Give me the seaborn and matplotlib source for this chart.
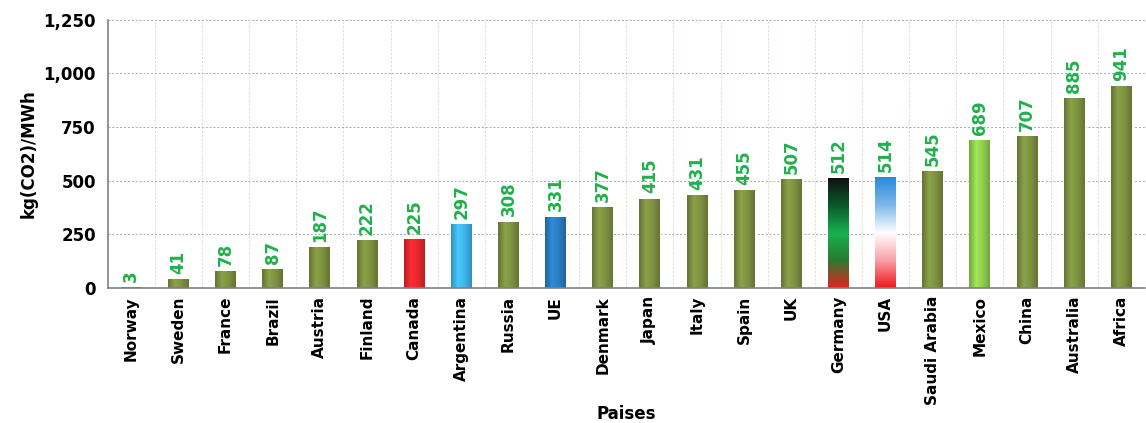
import matplotlib
matplotlib.use("Agg")
import matplotlib.pyplot as plt
import numpy as np
import pandas as pd
import seaborn as sns
from matplotlib.colors import LinearSegmentedColormap
from matplotlib.ticker import FuncFormatter, MultipleLocator

countries = ["Norway", "Sweden", "France", "Brazil", "Austria", "Finland", "Canada",
             "Argentina", "Russia", "UE", "Denmark", "Japan", "Italy", "Spain", "UK",
             "Germany", "USA", "Saudi Arabia", "Mexico", "China", "Australia", "Africa"]
emissions = [3, 41, 78, 87, 187, 222, 225, 297, 308, 331, 377, 415, 431, 455, 507,
             512, 514, 545, 689, 707, 885, 941]

OLIVE = "#7d9140"
special = {"Canada": "#e8282c", "Argentina": "#3fb4ea", "UE": "#2b7cc4", "Mexico": "#90cf4e"}
colors = [special.get(c, OLIVE) for c in countries]

df = pd.DataFrame({"country": countries, "value": emissions})

sns.set_style("white")
plt.rcParams["font.family"] = ["DejaVu Sans"]
plt.rcParams["text.color"] = "black"
plt.rcParams["axes.labelcolor"] = "black"
plt.rcParams["xtick.labelcolor"] = "black"
plt.rcParams["ytick.labelcolor"] = "black"

fig, ax = plt.subplots(figsize=(11.46, 4.23), dpi=100)
sns.barplot(data=df, x="country", y="value", hue="country", palette=colors,
            legend=False, width=0.44, ax=ax, saturation=1)

# flag-like gradients for Germany and USA, cylinder shading for the rest
flag_maps = {
    "Germany": LinearSegmentedColormap.from_list("de", ["#e8201e", "#2a7a30", "#18b050", "#0a5a2a", "#111111"]),
    "USA": LinearSegmentedColormap.from_list("us", ["#f01818", "#f8a0a8", "#ffffff", "#7cb8e8", "#2a88d8"]),
}
vgrad = np.linspace(0, 1, 256).reshape(-1, 1)
hgrad = np.linspace(0, 1, 64).reshape(1, -1)
for patch, name, col in zip(ax.patches, countries, colors):
    x0, w, h = patch.get_x(), patch.get_width(), patch.get_height()
    if name in flag_maps:
        patch.set_facecolor("none")
        ax.imshow(vgrad, cmap=flag_maps[name], origin="lower", aspect="auto",
                  extent=(x0, x0 + w, 0, h), zorder=patch.get_zorder())
    else:
        base = np.array(matplotlib.colors.to_rgb(col))
        dark, light = base * 0.8, np.clip(base * 1.12, 0, 1)
        cyl = LinearSegmentedColormap.from_list("cyl", [dark, light, base, dark])
        patch.set_facecolor("none")
        ax.imshow(hgrad, cmap=cyl, aspect="auto", extent=(x0, x0 + w, 0, h),
                  zorder=patch.get_zorder())
    ax.text(x0 + w / 2, h + 25, str(int(round(h))), rotation=90, ha="center", va="bottom",
            color="#1fb14c", fontsize=12, fontweight="bold")

ax.set_xlim(-0.5, len(countries) - 0.5)
ax.set_ylim(0, 1250)
ax.yaxis.set_major_locator(MultipleLocator(250))
ax.yaxis.set_minor_locator(MultipleLocator(50))
ax.yaxis.set_major_formatter(FuncFormatter(lambda v, _: f"{int(v):,}"))
ax.grid(axis="y", which="major", color="#a8a8a8", linestyle=(0, (2, 2)), linewidth=0.7)
ax.set_xticks(np.arange(len(countries)))
ax.set_xticklabels(countries, rotation=90, fontsize=11, fontweight="bold")
ax.set_xticks(np.arange(len(countries)) - 0.5, minor=True)
for xb in np.arange(1, len(countries)) - 0.5:
    ax.axvline(xb, color="#dcdcc0", linestyle=(0, (2, 2)), linewidth=0.7, zorder=0)
ax.tick_params(axis="x", which="major", length=0, pad=6)
ax.tick_params(axis="x", which="minor", length=5, color="#808080", direction="out")
ax.tick_params(axis="y", which="major", length=5, color="#808080", direction="out", labelsize=12)
ax.tick_params(axis="y", which="minor", length=3, color="#808080", direction="out")
for lbl in ax.get_yticklabels():
    lbl.set_fontweight("bold")
ax.set_axisbelow(True)

for side in ["top", "right"]:
    ax.spines[side].set_visible(False)
for side in ["left", "bottom"]:
    ax.spines[side].set_color("#808080")
    ax.spines[side].set_linewidth(1.2)

ax.set_xlabel("Paises", fontsize=12, fontweight="bold", labelpad=0)
ax.set_ylabel("kg(CO2)/MWh", fontsize=12, fontweight="bold")

fig.subplots_adjust(left=0.094, right=0.999, top=0.953, bottom=0.32)
fig.savefig("out.png", dpi=100)
